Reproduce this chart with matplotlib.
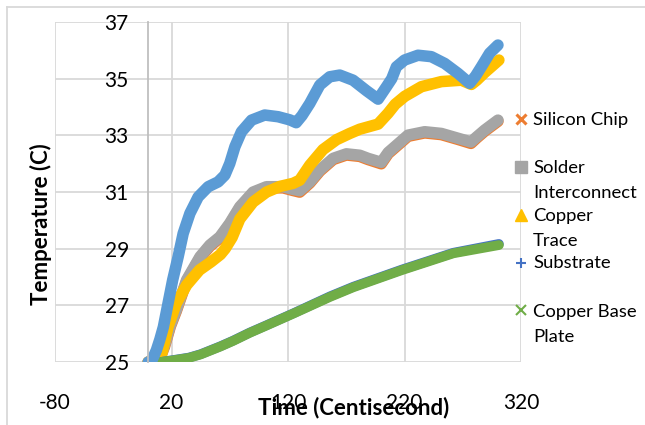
import matplotlib.pyplot as plt
from matplotlib.lines import Line2D

plt.rcParams['font.family'] = ['Lato', 'DejaVu Sans']
plt.rcParams['axes.unicode_minus'] = False

# time in centiseconds, temperature in C
t_top = [0, 3, 7, 10, 13, 17, 21, 25.7, 30, 35.8, 42.9, 51.5, 60, 65.8, 70, 74.4,
         80, 88.7, 100, 111.5, 121.5, 127, 132, 138.7, 147.3, 155.8, 164.4, 175.8,
         187.3, 197.3, 204.5, 209, 213, 220, 231.6, 243, 254.5, 265.9, 275.9, 281,
         285.9, 293, 300.2]
temp_top = [25.0, 25.05, 25.42, 25.8, 26.24, 27.07, 27.9, 28.72, 29.54, 30.25,
            30.83, 31.19, 31.36, 31.6, 32.01, 32.6, 33.13, 33.54, 33.72, 33.66,
            33.55, 33.45, 33.7, 34.13, 34.78, 35.07, 35.13, 34.95, 34.58, 34.28,
            34.72, 35.0, 35.42, 35.66, 35.83, 35.78, 35.54, 35.19, 34.84, 35.1,
            35.42, 35.9, 36.19]

t_solder = [0, 9, 14, 19, 24, 33, 44.5, 52.9, 61.5, 70, 78.6, 90, 101.5, 115.8,
            124, 130, 138.7, 147.3, 158.7, 170.1, 181.6, 188.7, 200, 206, 211.6,
            223, 237.3, 251.6, 265.9, 277, 282, 288.8, 300.2]
solder = [25.0, 25.05, 25.6, 26.3, 26.83, 27.9, 28.72, 29.13, 29.42, 29.9, 30.48,
          31.0, 31.19, 31.19, 31.1, 31.05, 31.36, 31.78, 32.19, 32.35, 32.3, 32.19,
          32.05, 32.4, 32.6, 33.01, 33.13, 33.07, 32.9, 32.77, 32.95, 33.19, 33.54]
silicon_chip = [25.0, 25.02, 25.55, 26.26, 26.79, 27.86, 28.68, 29.09, 29.38,
                29.86, 30.44, 30.96, 31.15, 31.15, 31.06, 31.0, 31.32, 31.74,
                32.15, 32.31, 32.26, 32.15, 32.0, 32.36, 32.56, 32.97, 33.09,
                33.03, 32.86, 32.72, 32.91, 33.15, 33.5]

t_trace = [0, 8, 11, 14, 17, 24, 33, 44, 54, 62, 66, 72, 78.6, 90, 101.5, 113,
           124.4, 130, 138.7, 150, 161.6, 173, 181.6, 197.3, 205.8, 212, 220.2,
           234.5, 251.6, 268.8, 277.4, 282, 288.8, 301]
copper_trace = [25.0, 25.0, 25.2, 25.7, 26.24, 27.07, 27.72, 28.25, 28.54, 28.8,
                29.0, 29.4, 30.05, 30.65, 31.0, 31.2, 31.31, 31.42, 31.95, 32.5,
                32.85, 33.07, 33.22, 33.4, 33.78, 34.1, 34.38, 34.72, 34.9, 34.95,
                34.8, 34.95, 35.22, 35.66]

t_base = [0, 10, 21, 35, 45, 62, 73, 87, 102, 125, 156, 176, 218, 262, 301]
base_plate = [25.0, 25.0, 25.06, 25.15, 25.27, 25.55, 25.75, 26.03, 26.3, 26.72,
              27.3, 27.64, 28.25, 28.84, 29.13]
substrate = [25.0, 25.0, 25.07, 25.16, 25.28, 25.56, 25.76, 26.04, 26.31, 26.73,
             27.32, 27.66, 28.27, 28.86, 29.17]

legend_labels = ["Silicon Chip", "Solder\nInterconnect", "Copper\nTrace",
                 "Substrate", "Copper Base\nPlate"]

c_top = '#5B9BD5'
c_orange = '#ED7D31'
c_gray = '#A5A5A5'
c_yellow = '#FFC000'
c_blue = '#4472C4'
c_green = '#70AD47'
grid_c = '#D9D9D9'

fig = plt.figure(figsize=(6.45, 4.25), dpi=100)
ax = fig.add_axes([0.0853, 0.148, 0.7225, 0.800])

kw = dict(solid_capstyle='round', solid_joinstyle='round')
ax.plot(t_solder, silicon_chip, color=c_orange, lw=8.3, **kw)
ax.plot(t_solder, solder, color=c_gray, lw=8.3, **kw)
ax.plot(t_trace, copper_trace, color=c_yellow, lw=8.3, **kw)
ax.plot(t_base, substrate, color=c_blue, lw=7, **kw)
ax.plot(t_base, base_plate, color=c_green, lw=7, **kw)
ax.plot(t_top, temp_top, color=c_top, lw=8.3, **kw)

ax.set_xlim(-80, 320)
ax.set_ylim(25, 37)
ax.set_xticks(range(-80, 321, 100))
ax.set_yticks(range(25, 38, 2))
ax.grid(True, color=grid_c, lw=1.3)
ax.set_axisbelow(True)

for side in ['top', 'right', 'bottom']:
    ax.spines[side].set_visible(False)
ax.spines['left'].set_position(('data', 0))
ax.spines['left'].set_color('#BFBFBF')
ax.spines['left'].set_linewidth(1.3)
ax.tick_params(axis='both', length=0, labelsize=15, colors='black')
ax.tick_params(axis='x', pad=22)
ax.tick_params(axis='y', pad=14)

fig.text(0.549, 0.025, 'Time (Centisecond)', fontsize=16, fontweight='bold',
         ha='center', va='baseline')
fig.text(0.063, 0.473, 'Temperature (C)', fontsize=16, fontweight='bold',
         rotation=90, ha='center', va='center')

# legend drawn by hand beside the plot area
markers = [('x', c_orange, 7, 2.2), ('s', c_gray, 8, 1), ('^', c_yellow, 8, 1),
           ('+', c_blue, 7, 1.5), ('x', c_green, 7, 1.5)]
marker_y = [119, 167, 215, 263, 310]
first_baseline = [125, 173, 221, 268, 317]
for label, (m, c, ms, mew), my, by in zip(legend_labels, markers, marker_y,
                                          first_baseline):
    fig.add_artist(Line2D([521 / 645], [1 - my / 425], marker=m, color=c,
                          markersize=ms, markeredgewidth=mew, linestyle='none'))
    for i, line in enumerate(label.split('\n')):
        fig.text(533 / 645, 1 - (by + 25 * i) / 425, line, fontsize=13.3,
                 ha='left', va='baseline')

# outer chart frame
fig.add_artist(Line2D([7 / 645, 7 / 645], [0, 1 - 7 / 425], color=grid_c, lw=1.3))
fig.add_artist(Line2D([7 / 645, 1], [1 - 7 / 425, 1 - 7 / 425], color=grid_c, lw=1.3))

fig.savefig('out.png', dpi=100)
